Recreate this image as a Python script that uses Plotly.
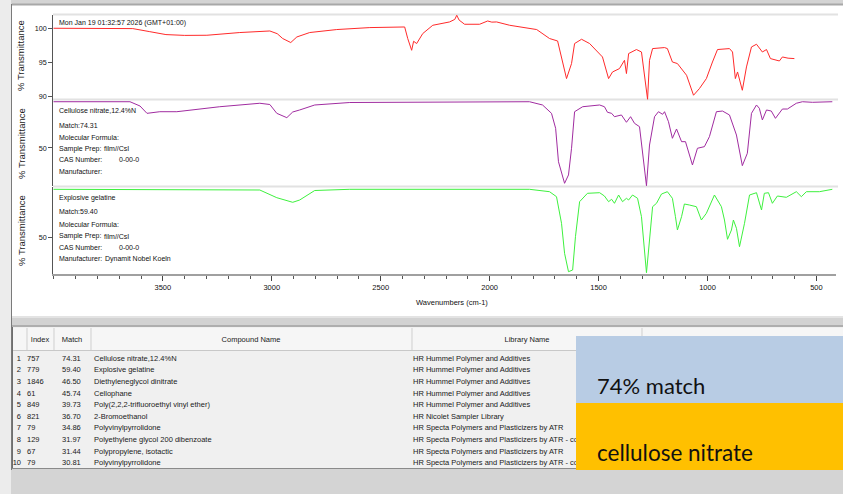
import plotly.graph_objects as go

W, H = 843, 494

# ---------------- spectra data (wavenumber cm-1, %T) ----------------
sample_wn = [4003, 3986, 3800, 3638, 3560, 3486, 3400, 3298, 3147, 3009, 2975, 2950, 2913, 2885,
             2826, 2702, 2550, 2390, 2376, 2358, 2349, 2335, 2307, 2261, 2184, 2160, 2151, 2140,
             2115, 2046, 2009, 1990, 1968, 1908, 1784, 1725, 1688, 1670, 1647, 1624, 1610, 1578,
             1541, 1482, 1454, 1436, 1404, 1381, 1372, 1362, 1326, 1303, 1289, 1275, 1266, 1252,
             1197, 1184, 1161, 1138, 1096, 1064, 1037, 1005, 977, 954, 899, 885, 872, 862, 840,
             821, 798, 775, 748, 729, 711, 690, 670, 656, 630, 601]
sample_t = [100.0, 100.0, 100.05, 99.95, 99.5, 99.07, 98.95, 98.97, 99.37, 99.6, 99.2, 98.49, 97.9, 98.72,
            99.37, 99.81, 100.1, 100.19, 98.49, 96.76, 98.09, 97.75, 99.22, 100.44, 100.93, 101.3, 101.91, 101.2,
            100.59, 100.59, 101.07, 100.9, 100.93, 100.44, 99.81, 98.49, 98.13, 95.78, 92.6, 94.81, 97.75, 98.38,
            97.75, 95.78, 92.6, 93.57, 94.07, 95.29, 93.34, 96.28, 96.87, 96.51, 93.34, 89.56, 95.29, 97.01,
            97.16, 97.01, 95.04, 94.81, 93.09, 90.15, 91.13, 92.6, 95.04, 96.87, 97.01, 96.51, 92.6, 93.57, 90.88,
            94.31, 97.25, 97.65, 96.51, 96.87, 95.54, 95.4, 95.19, 95.78, 95.6, 95.54]

ref1_wn = [4003, 3651, 3605, 3573, 3514, 3436, 3239, 3055, 3009, 2977, 2931, 2904, 2872, 2803, 2642,
           2184, 1817, 1757, 1716, 1697, 1684, 1656, 1638, 1624, 1610, 1573, 1495, 1473, 1459, 1440,
           1427, 1395, 1372, 1353, 1335, 1312, 1298, 1280, 1266, 1243, 1225, 1206, 1197, 1179, 1161,
           1142, 1119, 1101, 1069, 1046, 1014, 991, 959, 931, 899, 867, 840, 817, 798, 775, 762, 748,
           729, 707, 688, 656, 633, 592, 564, 518, 427]
ref1_t = [98.2, 98.2, 93.75, 86.1, 87.8, 87.8, 93.0, 96.6, 95.3, 86.1, 81.6, 87.5, 89.6, 94.8, 97.4,
          98.2, 98.2, 94.8, 86.1, 70.5, 35.7, 13.2, 21.9, 49.7, 87.8, 93.0, 94.8, 93.0, 87.2, 86.1,
          82.6, 84.4, 76.8, 82.6, 75.7, 72.2, 46.1, 10.7, 53.1, 82.6, 87.8, 85.1, 87.8, 77.4, 60.1,
          69.8, 56.6, 56.6, 32.3, 49.7, 51.4, 61.8, 87.8, 88.5, 84.4, 63.5, 31.6, 44.5, 86.1, 94.8, 91.4, 79.2,
          89.6, 88.5, 80.9, 90.6, 90.6, 96.6, 98.2, 97.6, 98.2]

ref2_wn = [4003, 3651, 3300, 3055, 2977, 2904, 2872, 2803, 2642, 1817, 1725, 1693, 1670, 1656, 1638,
           1619, 1606, 1587, 1551, 1495, 1473, 1454, 1440, 1427, 1408, 1390, 1372, 1362, 1344, 1321,
           1303, 1289, 1280, 1266, 1252, 1234, 1211, 1184, 1161, 1147, 1138, 1119, 1106, 1083, 1051,
           1028, 1005, 968, 936, 922, 908, 890, 881, 867, 853, 830, 807, 775, 762, 752, 739, 720, 702,
           679, 638, 592, 569, 546, 486, 427]
ref2_t = [97.7, 97.7, 97.0, 97.0, 89.3, 84.7, 87.0, 96.5, 97.7, 97.7, 95.3, 90.3, 63.7, 33.7, 15.3,
          17.0, 50.3, 85.3, 93.7, 94.3, 91.0, 85.3, 87.7, 83.7, 92.0, 85.3, 88.7, 87.0, 92.0, 88.7,
          70.3, 33.7, 14.3, 47.0, 80.3, 83.7, 93.0, 95.3, 88.7, 70.3, 57.0, 70.3, 83.0, 82.0, 80.3,
          67.0, 73.7, 92.0, 80.3, 67.0, 47.7, 57.0, 67.0, 58.7, 40.3, 63.7, 92.0, 94.3, 83.7, 77.0, 93.7, 94.3, 83.7,
          91.0, 89.7, 95.3, 90.3, 95.3, 95.3, 97.7]

x_ticks = [3500, 3000, 2500, 2000, 1500, 1000, 500]
top_ticks = [90, 95, 100]
ref_ticks = [50]

# ---------------- search result table data ----------------
row_no = [1, 2, 3, 4, 5, 6, 7, 8, 9, 10]
lib_index = [757, 779, 1846, 61, 849, 821, 79, 129, 67, 79]
match_vals = [74.31, 59.40, 46.50, 45.74, 39.73, 36.70, 34.86, 31.97, 31.44, 30.81]
compound = ["Cellulose nitrate,12.4%N", "Explosive gelatine", "Diethyleneglycol dinitrate",
            "Cellophane", "Poly(2,2,2-trifluoroethyl vinyl ether)", "2-Bromoethanol",
            "Polyvinylpyrrolidone", "Polyethylene glycol 200 dibenzoate",
            "Polypropylene, isotactic", "Polyvinylpyrrolidone"]
library = ["HR Hummel Polymer and Additives"] * 5 + [
    "HR Nicolet Sampler Library",
    "HR Specta Polymers and Plasticizers by ATR",
    "HR Specta Polymers and Plasticizers by ATR - corrected",
    "HR Specta Polymers and Plasticizers by ATR",
    "HR Specta Polymers and Plasticizers by ATR - corrected"]
headers = ["Index", "Match", "Compound Name", "Library Name"]

SMALL = "Liberation Sans, Arial, sans-serif"
SANS = "Liberation Sans, Arial, sans-serif"
FS = 7.5     # table / x ticks
FP = 7.0     # panel info text


def px(x):
    return x / W


def py(y):
    return 1 - y / H


fig = go.Figure()

fig.add_trace(go.Scatter(x=sample_wn, y=sample_t, mode="lines", xaxis="x", yaxis="y",
                         line=dict(color="#ff2a2a", width=1), hoverinfo="skip", showlegend=False))
fig.add_trace(go.Scatter(x=ref1_wn, y=ref1_t, mode="lines", xaxis="x", yaxis="y2",
                         line=dict(color="#a02ca0", width=1), hoverinfo="skip", showlegend=False))
fig.add_trace(go.Scatter(x=ref2_wn, y=ref2_t, mode="lines", xaxis="x", yaxis="y3",
                         line=dict(color="#3ef03e", width=1), hoverinfo="skip", showlegend=False))

# table text as traces on a pixel overlay axis (so overlay boxes can cover it)
row_y = [359 + 11.6 * i for i in range(len(row_no))]
tfont = dict(family=SMALL, size=FS, color="#1a1a1a")


def table_col(xpos, texts, pos):
    fig.add_trace(go.Scatter(x=[xpos] * len(texts), y=row_y[:len(texts)], text=texts, mode="text",
                             textposition=pos, textfont=tfont, xaxis="x2", yaxis="y4",
                             hoverinfo="skip", showlegend=False, cliponaxis=False))


table_col(21, [str(n) for n in row_no], "middle left")
table_col(27, [str(v) for v in lib_index], "middle right")
table_col(62, ["%.2f" % v for v in match_vals], "middle right")
table_col(94, compound, "middle right")
table_col(413, library, "middle right")
fig.add_trace(go.Scatter(x=[40, 72, 251, 527], y=[340] * 4, text=headers, mode="text",
                         textposition="middle center", textfont=tfont, xaxis="x2", yaxis="y4",
                         hoverinfo="skip", showlegend=False))

shapes = []


def rect(x0, y0, x1, y1, fill, line=None, layer="below", lw=1):
    shapes.append(dict(type="rect", xref="paper", yref="paper", x0=px(x0), x1=px(x1),
                       y0=py(y1), y1=py(y0), fillcolor=fill, layer=layer,
                       line=dict(color=line or fill, width=lw if line else 0)))


def hline(x0, x1, y, color, width=1, layer="below"):
    shapes.append(dict(type="line", xref="paper", yref="paper", x0=px(x0), x1=px(x1),
                       y0=py(y), y1=py(y), line=dict(color=color, width=width), layer=layer))


def vline(x, y0, y1, color, width=1, layer="below"):
    shapes.append(dict(type="line", xref="paper", yref="paper", x0=px(x), x1=px(x),
                       y0=py(y0), y1=py(y1), line=dict(color=color, width=width), layer=layer))


# window chrome
rect(0, 0, W, H, "#d4d4d4")
rect(0, 0, 11, H, "#ececec")
vline(11.5, 4, 470, "#7a7a7a", 1)
rect(12, 5, W, 316, "#ffffff")
hline(12, W, 4.5, "#a8a8a8", 2)
rect(12, 316, W, 327, "#d2d2d2")
hline(12, W, 317, "#f4f4f4", 1)
hline(12, W, 326, "#8a8a8a", 1)
# panel separators
hline(53, 838, 14.5, "#e2e2e2", 2)
hline(53, 838, 99.5, "#e2e2e2", 2)
hline(53, 838, 186.5, "#e2e2e2", 2)
# table
rect(12.5, 327, W, 468, "#f0f0f0")
rect(13, 328, W, 350, "#f6f6f6")
hline(13, W, 350.5, "#c8c8c8", 1)
for xs in [27, 54, 91, 412, 642]:
    vline(xs, 328, 350, "#cfcfcf", 1)
vline(12.5, 327, 468, "#6e6e6e", 1)
hline(12, W, 468.5, "#8a8a8a", 1)
# overlay boxes
rect(576, 336, W, 403, "#b8cce4", layer="above")
rect(576, 403, W, 470, "#ffc000", layer="above")

annotations = []


def text(x, y, s, size=FP, family=SMALL, anchor="left", color="#111111", angle=0):
    annotations.append(dict(x=px(x), y=py(y), xref="paper", yref="paper", text=s, showarrow=False,
                            xanchor=anchor, yanchor="middle", textangle=angle,
                            font=dict(family=family, size=size, color=color)))


text(57, 23, "Mon Jan 19 01:32:57 2026 (GMT+01:00)")
# reference 1 info
text(57, 110, "Cellulose nitrate,12.4%N")
text(57, 125, "Match:74.31")
text(57, 137, "Molecular Formula:")
text(57, 148.5, "Sample Prep:")
text(102, 148.5, "film//CsI")
text(57, 159.5, "CAS Number:")
text(117, 159.5, "0-00-0")
text(57, 171.5, "Manufacturer:")
# reference 2 info
text(57, 198, "Explosive gelatine")
text(57, 211.5, "Match:59.40")
text(57, 224, "Molecular Formula:")
text(57, 236, "Sample Prep:")
text(102, 236, "film//CsI")
text(57, 247, "CAS Number:")
text(117, 247, "0-00-0")
text(57, 258.5, "Manufacturer:")
text(103, 258.5, "Dynamit Nobel Koeln")
# y titles
for yc in [56, 144, 231]:
    text(21, yc, "% Transmittance", size=9.5, family=SANS, anchor="center", color="#222222", angle=-90)
# x title
text(452, 302, "Wavenumbers (cm-1)", size=FS, anchor="center")
# overlay text
text(595, 385, "74% match", size=22, family="Lato, Open Sans, sans-serif", color="#111111")
text(595, 452, "cellulose nitrate", size=22.5, family="Lato, Open Sans, sans-serif", color="#111111")

axfont = dict(family=SMALL, size=FS, color="#111111")
yax_common = dict(showgrid=False, zeroline=False, showline=True, linecolor="#555555", linewidth=1,
                  ticks="outside", ticklen=4, tickcolor="#555555",
                  tickfont=dict(family=SMALL, size=7.2, color="#111111"), anchor="x",
                  fixedrange=True)

fig.update_layout(
    width=W, height=H, margin=dict(l=0, r=0, t=0, b=0),
    paper_bgcolor="#d4d4d4", plot_bgcolor="rgba(0,0,0,0)",
    showlegend=False,
    xaxis=dict(domain=[px(53.3), px(836)], range=[4003, 410], anchor="y3",
               tickvals=x_ticks, ticks="outside", ticklen=5, tickcolor="#444444",
               minor=dict(dtick=100, tick0=0, ticks="outside", ticklen=3, tickcolor="#555555"),
               showline=True, linecolor="#a0a0a0", linewidth=2, showgrid=False, zeroline=False,
               tickfont=axfont, fixedrange=True),
    yaxis=dict(domain=[py(100), py(15)], range=[89.45, 101.95], tickvals=top_ticks, **yax_common),
    yaxis2=dict(domain=[py(186), py(100)], range=[10.4, 100], tickvals=ref_ticks, **yax_common),
    yaxis3=dict(domain=[py(274), py(187)], range=[13, 100], tickvals=ref_ticks, **yax_common),
    xaxis2=dict(domain=[0, 1], range=[0, W], visible=False, anchor="y4", fixedrange=True),
    yaxis4=dict(domain=[0, 1], range=[H, 0], visible=False, anchor="x2", fixedrange=True),
    shapes=shapes,
    annotations=annotations,
)

fig.write_html("out.html", config={"displayModeBar": False},
               post_script="document.body.style.margin='0';document.body.style.overflow='hidden';")
